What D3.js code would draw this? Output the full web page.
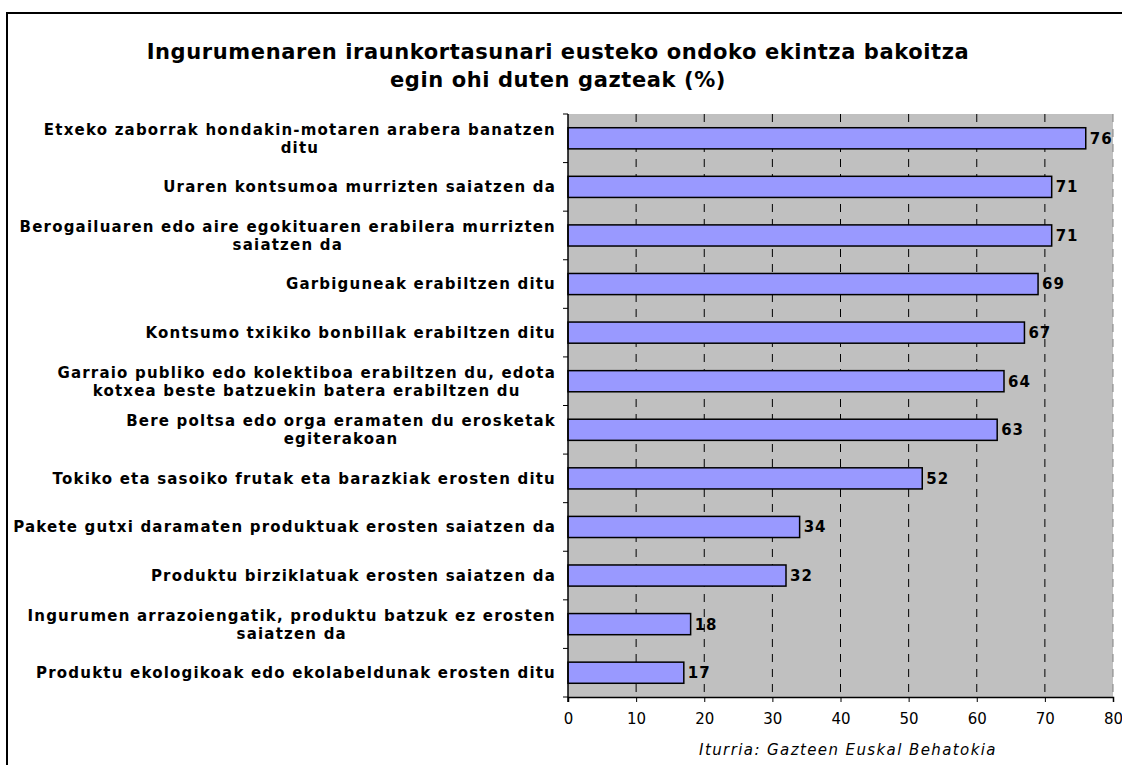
<!DOCTYPE html>
<html>
<head>
<meta charset="utf-8">
<script src="https://cdn.jsdelivr.net/npm/d3@7"></script>
<style>
  body { margin: 0; background: #fff; }
  svg text { font-family: "DejaVu Sans", Verdana, sans-serif; }
</style>
</head>
<body>
<div id="chart"></div>
<script>
// chart data
var titleLines = ["Ingurumenaren iraunkortasunari eusteko ondoko ekintza bakoitza",
                  "egin ohi duten gazteak (%)"];
var categories = [
  "Etxeko zaborrak hondakin-motaren arabera banatzen\nditu",
  "Uraren kontsumoa murrizten saiatzen da",
  "Berogailuaren edo aire egokituaren erabilera murrizten\nsaiatzen da",
  "Garbiguneak erabiltzen ditu",
  "Kontsumo txikiko bonbillak erabiltzen ditu",
  "Garraio publiko edo kolektiboa erabiltzen du, edota\nkotxea beste batzuekin batera erabiltzen du",
  "Bere poltsa edo orga eramaten du erosketak\negiterakoan",
  "Tokiko eta sasoiko frutak eta barazkiak erosten ditu",
  "Pakete gutxi daramaten produktuak erosten saiatzen da",
  "Produktu birziklatuak erosten saiatzen da",
  "Ingurumen arrazoiengatik, produktu batzuk ez erosten\nsaiatzen da",
  "Produktu ekologikoak edo ekolabeldunak erosten ditu"
];
var values = [76, 71, 71, 69, 67, 64, 63, 52, 34, 32, 18, 17];
var xTicks = [0, 10, 20, 30, 40, 50, 60, 70, 80];
var sourceText = "Iturria: Gazteen Euskal Behatokia";

var width = 1122, height = 765;
var plot = {left: 568, right: 1113, top: 114, bottom: 697};

var svg = d3.select("#chart").append("svg")
    .attr("width", width)
    .attr("height", height);

// outer frame
svg.append("rect")
    .attr("x", 7).attr("y", 13)
    .attr("width", 1140).attr("height", 800)
    .attr("fill", "none")
    .attr("stroke", "#000")
    .attr("stroke-width", 2);

var x = d3.scaleLinear().domain([0, 80]).range([plot.left, plot.right]);
var y = d3.scaleBand().domain(d3.range(categories.length))
    .range([plot.top, plot.bottom])
    .paddingInner(0.565).paddingOuter(0.2825);
var yb = d3.scaleBand().domain(d3.range(categories.length))
    .range([plot.top, plot.bottom]);

// plot background
svg.append("rect")
    .attr("x", plot.left).attr("y", plot.top)
    .attr("width", plot.right - plot.left)
    .attr("height", plot.bottom - plot.top)
    .attr("fill", "#c0c0c0");

// dashed gridlines
svg.append("g").selectAll("line")
    .data(xTicks.slice(1))
  .enter().append("line")
    .attr("x1", function(d) { return x(d); })
    .attr("x2", function(d) { return x(d); })
    .attr("y1", plot.top)
    .attr("y2", plot.bottom)
    .attr("stroke", function(d) { return d == 80 ? "#808080" : "#000"; })
    .attr("stroke-width", 1)
    .attr("stroke-dasharray", "8,7");

// bars
svg.append("g").selectAll("rect")
    .data(values)
  .enter().append("rect")
    .attr("x", x(0))
    .attr("y", function(d, i) { return y(i); })
    .attr("width", function(d) { return x(d) - x(0); })
    .attr("height", y.bandwidth())
    .attr("fill", "#9999ff")
    .attr("stroke", "#000")
    .attr("stroke-width", 1.5);

// value labels
svg.append("g").selectAll("text")
    .data(values)
  .enter().append("text")
    .attr("x", function(d) { return x(d) + 4; })
    .attr("y", function(d, i) { return y(i) + y.bandwidth() / 2; })
    .attr("dy", "0.36em")
    .attr("font-size", "15px")
    .attr("font-weight", "bold")
    .attr("letter-spacing", "1px")
    .text(function(d) { return d; });

// x axis
var xAxis = d3.axisBottom(x).tickValues(xTicks).tickSize(5).tickPadding(11);
var gx = svg.append("g")
    .attr("transform", "translate(0," + plot.bottom + ")")
    .call(xAxis);
gx.select(".domain").attr("stroke", "#000").attr("stroke-width", 1.5);
gx.selectAll("text")
    .attr("font-family", "DejaVu Sans, Verdana, sans-serif")
    .attr("font-size", "15px")
    .attr("fill", "#000");

// y axis line + ticks at band boundaries
var gy = svg.append("g");
gy.append("line")
    .attr("x1", plot.left).attr("x2", plot.left)
    .attr("y1", plot.top).attr("y2", plot.bottom + 5)
    .attr("stroke", "#000").attr("stroke-width", 1.5);
gy.selectAll(".tk")
    .data(d3.range(categories.length + 1))
  .enter().append("line")
    .attr("class", "tk")
    .attr("x1", plot.left - 5).attr("x2", plot.left)
    .attr("y1", function(i) { return i < categories.length ? yb(i) : plot.bottom; })
    .attr("y2", function(i) { return i < categories.length ? yb(i) : plot.bottom; })
    .attr("stroke", "#000").attr("stroke-width", 1);

// category labels, lines centred within a right-aligned block
var lineH = 18;
categories.forEach(function(c, i) {
  var lines = c.split("\n");
  var g = svg.append("g");
  var texts = g.selectAll("text")
      .data(lines)
    .enter().append("text")
      .attr("font-size", "15px")
      .attr("font-weight", "bold")
      .attr("letter-spacing", "1.2px")
      .attr("text-anchor", "middle")
      .attr("dy", "0.36em")
      .attr("y", function(d, j) {
        return yb(i) + yb.bandwidth() / 2 + (j - (lines.length - 1) / 2) * lineH;
      })
      .text(function(d) { return d; });
  var maxW = 0;
  texts.each(function() { maxW = Math.max(maxW, this.getComputedTextLength()); });
  texts.attr("x", 556 - maxW / 2);
});

// title
svg.append("g").selectAll("text")
    .data(titleLines)
  .enter().append("text")
    .attr("x", 558)
    .attr("y", function(d, i) { return 59 + i * 28; })
    .attr("text-anchor", "middle")
    .attr("font-size", "21px")
    .attr("font-weight", "bold")
    .attr("letter-spacing", "0.6px")
    .text(function(d) { return d; });

// source note
svg.append("text")
    .attr("x", 848)
    .attr("y", 755)
    .attr("text-anchor", "middle")
    .attr("font-size", "15px")
    .attr("font-style", "italic")
    .attr("letter-spacing", "1.4px")
    .text(sourceText);
</script>
</body>
</html>
